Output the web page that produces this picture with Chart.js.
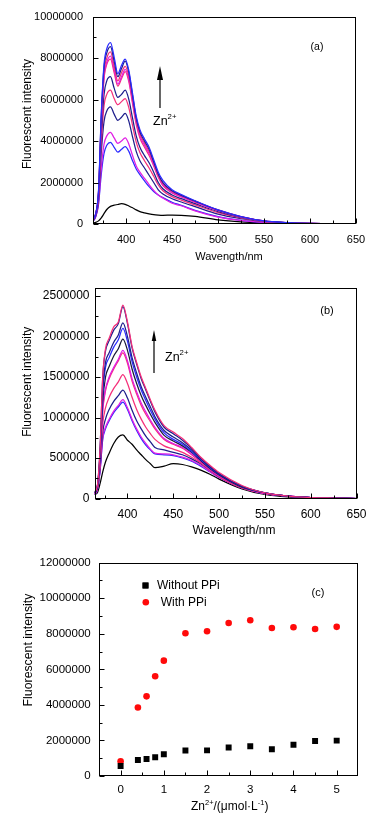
<!DOCTYPE html>
<html>
<head>
<meta charset="utf-8">
<script src="https://cdn.jsdelivr.net/npm/chart.js@4.4.1/dist/chart.umd.min.js"></script>
<style>
  html, body { margin: 0; padding: 0; background: #fff; }
  #page { position: relative; width: 390px; height: 822px; overflow: hidden; }
  canvas { position: absolute; left: 0; }
</style>
</head>
<body>
<div id="page">
  <canvas id="chartA" width="390" height="272" style="top:0px"></canvas>
  <canvas id="chartB" width="390" height="273" style="top:272px"></canvas>
  <canvas id="chartC" width="390" height="277" style="top:545px"></canvas>
</div>
<script>
// ---------- Data (intensities in units of 10^6) ----------

// panel (a) - emission spectra, Zn2+ titration
const waveA = [364, 367, 370, 373, 376, 379, 383, 387, 391, 395, 399, 403, 407, 411, 415, 420, 425, 430, 435, 440, 450, 460, 475, 500, 525, 550, 575, 600, 625, 650];
const aBlue1  = [0.2, 0.5, 1.6, 5.3, 7.7, 8.45, 8.75, 8.05, 7.25, 7.65, 7.95, 7.4, 6.3, 5.2, 4.55, 4.1, 3.7, 3.1, 2.5, 2.1, 1.65, 1.42, 1.12, 0.68, 0.36, 0.15, 0.07, 0.03, 0.01, 0];
const aNavy1  = [0.2, 0.5, 1.55, 5.2, 7.55, 8.25, 8.55, 7.85, 7.1, 7.5, 7.85, 7.3, 6.2, 5.1, 4.45, 4.0, 3.6, 3.0, 2.4, 2.0, 1.6, 1.38, 1.1, 0.67, 0.35, 0.15, 0.07, 0.03, 0.01, 0];
const aRed1   = [0.2, 0.5, 1.5, 5.0, 7.3, 8.0, 8.3, 7.6, 6.9, 7.3, 7.6, 7.1, 6.05, 5.0, 4.35, 3.9, 3.5, 2.95, 2.35, 1.95, 1.57, 1.36, 1.1, 0.68, 0.36, 0.15, 0.07, 0.03, 0.01, 0];
const aMag1   = [0.2, 0.5, 1.5, 4.9, 7.1, 7.8, 8.1, 7.45, 6.75, 7.1, 7.45, 6.95, 5.9, 4.9, 4.25, 3.8, 3.4, 2.85, 2.3, 1.9, 1.52, 1.32, 1.06, 0.65, 0.34, 0.14, 0.06, 0.03, 0.01, 0];
const aPink1  = [0.2, 0.5, 1.45, 4.8, 7.0, 7.7, 7.95, 7.3, 6.65, 7.0, 7.35, 6.85, 5.8, 4.8, 4.15, 3.7, 3.3, 2.8, 2.25, 1.85, 1.5, 1.3, 1.05, 0.64, 0.34, 0.14, 0.06, 0.03, 0.01, 0];
const aNavy2  = [0.18, 0.45, 1.35, 4.3, 6.25, 6.9, 7.1, 6.55, 6.1, 6.25, 6.45, 6.0, 5.1, 4.25, 3.7, 3.3, 2.95, 2.5, 2.0, 1.7, 1.4, 1.22, 0.98, 0.6, 0.32, 0.13, 0.06, 0.03, 0.01, 0];
const aPink2  = [0.17, 0.42, 1.25, 3.9, 5.7, 6.25, 6.45, 6.05, 5.75, 5.9, 6.05, 5.6, 4.75, 3.95, 3.45, 3.05, 2.7, 2.3, 1.88, 1.6, 1.32, 1.15, 0.92, 0.55, 0.3, 0.12, 0.05, 0.02, 0.01, 0];
const aNavy3  = [0.15, 0.4, 1.15, 3.45, 4.95, 5.45, 5.65, 5.3, 5.0, 5.15, 5.33, 4.95, 4.2, 3.5, 3.05, 2.7, 2.35, 2.0, 1.65, 1.45, 1.22, 1.06, 0.84, 0.48, 0.26, 0.11, 0.05, 0.02, 0.01, 0];
const aMag2   = [0.13, 0.37, 1.0, 2.7, 3.85, 4.25, 4.42, 4.15, 3.89, 4.0, 4.15, 3.85, 3.3, 2.8, 2.5, 2.2, 1.9, 1.62, 1.4, 1.25, 1.0, 0.88, 0.63, 0.33, 0.17, 0.08, 0.03, 0.02, 0.01, 0];
const aBlue2  = [0.12, 0.35, 0.95, 2.4, 3.4, 3.8, 3.94, 3.7, 3.46, 3.6, 3.73, 3.5, 3.05, 2.65, 2.38, 2.08, 1.8, 1.57, 1.4, 1.27, 1.05, 0.9, 0.66, 0.36, 0.18, 0.08, 0.04, 0.02, 0.01, 0];
const aBlack  = [0.05, 0.08, 0.15, 0.3, 0.5, 0.7, 0.85, 0.91, 0.94, 0.98, 0.95, 0.87, 0.78, 0.68, 0.6, 0.54, 0.49, 0.45, 0.43, 0.42, 0.43, 0.42, 0.37, 0.2, 0.1, 0.05, 0.02, 0.01, 0, 0];

// panel (b) - emission spectra with PPi
const waveB = [364, 367, 370, 373, 376, 380, 385, 390, 395, 400, 405, 410, 415, 420, 425, 430, 440, 450, 460, 470, 480, 490, 500, 525, 550, 575, 600, 625, 650];
const bPink1  = [0.08, 0.15, 0.6, 1.5, 1.85, 1.98, 2.12, 2.18, 2.39, 2.18, 1.88, 1.68, 1.5, 1.36, 1.22, 1.09, 0.9, 0.82, 0.74, 0.63, 0.51, 0.41, 0.32, 0.16, 0.07, 0.03, 0.012, 0.005, 0];
const bNavy1  = [0.08, 0.15, 0.6, 1.5, 1.82, 1.95, 2.08, 2.16, 2.37, 2.16, 1.86, 1.66, 1.48, 1.34, 1.2, 1.07, 0.88, 0.8, 0.72, 0.62, 0.5, 0.4, 0.31, 0.15, 0.07, 0.03, 0.012, 0.005, 0];
const bNavy2  = [0.07, 0.14, 0.55, 1.35, 1.68, 1.8, 1.93, 2.02, 2.17, 2.0, 1.74, 1.55, 1.38, 1.25, 1.13, 1.01, 0.84, 0.76, 0.69, 0.6, 0.49, 0.39, 0.3, 0.15, 0.07, 0.03, 0.012, 0.005, 0];
const bBlue1  = [0.07, 0.14, 0.52, 1.3, 1.62, 1.74, 1.87, 1.96, 2.10, 1.94, 1.69, 1.5, 1.34, 1.21, 1.09, 0.98, 0.81, 0.73, 0.67, 0.58, 0.48, 0.38, 0.3, 0.15, 0.07, 0.03, 0.012, 0.005, 0];
const bDark   = [0.07, 0.13, 0.5, 1.2, 1.5, 1.63, 1.76, 1.85, 1.97, 1.83, 1.6, 1.42, 1.27, 1.15, 1.04, 0.94, 0.78, 0.71, 0.65, 0.57, 0.47, 0.37, 0.29, 0.14, 0.07, 0.03, 0.012, 0.005, 0];
const bMag1   = [0.06, 0.12, 0.45, 1.1, 1.35, 1.5, 1.62, 1.72, 1.83, 1.7, 1.48, 1.32, 1.18, 1.07, 0.97, 0.88, 0.74, 0.68, 0.63, 0.55, 0.46, 0.36, 0.28, 0.14, 0.06, 0.03, 0.012, 0.005, 0];
const bPink2  = [0.06, 0.12, 0.45, 1.08, 1.33, 1.48, 1.6, 1.7, 1.80, 1.67, 1.45, 1.29, 1.15, 1.04, 0.95, 0.86, 0.73, 0.67, 0.62, 0.54, 0.45, 0.36, 0.28, 0.14, 0.06, 0.03, 0.012, 0.005, 0];
const bPink3  = [0.06, 0.11, 0.4, 0.92, 1.12, 1.25, 1.36, 1.44, 1.53, 1.42, 1.25, 1.1, 0.98, 0.88, 0.8, 0.73, 0.65, 0.61, 0.57, 0.51, 0.44, 0.35, 0.27, 0.13, 0.06, 0.03, 0.012, 0.005, 0];
const bNavy3  = [0.05, 0.1, 0.36, 0.82, 0.98, 1.1, 1.2, 1.27, 1.34, 1.24, 1.09, 0.96, 0.86, 0.77, 0.7, 0.63, 0.6, 0.57, 0.54, 0.49, 0.43, 0.35, 0.27, 0.13, 0.06, 0.03, 0.012, 0.005, 0];
const bMag2   = [0.05, 0.1, 0.33, 0.75, 0.88, 0.98, 1.08, 1.15, 1.22, 1.12, 0.98, 0.86, 0.76, 0.68, 0.61, 0.56, 0.55, 0.54, 0.51, 0.47, 0.41, 0.33, 0.26, 0.13, 0.06, 0.03, 0.012, 0.005, 0];
const bBlue2  = [0.05, 0.1, 0.33, 0.73, 0.86, 0.96, 1.06, 1.13, 1.19, 1.1, 0.96, 0.84, 0.74, 0.66, 0.6, 0.55, 0.54, 0.53, 0.5, 0.46, 0.4, 0.33, 0.26, 0.13, 0.06, 0.03, 0.012, 0.005, 0];
const bBlack  = [0.05, 0.07, 0.18, 0.33, 0.45, 0.56, 0.68, 0.76, 0.785, 0.72, 0.67, 0.6, 0.54, 0.48, 0.43, 0.38, 0.4, 0.43, 0.42, 0.39, 0.35, 0.3, 0.24, 0.12, 0.05, 0.02, 0.01, 0.005, 0];

// panel (c) - intensity vs Zn2+ concentration
const znConc     = [0, 0.4, 0.6, 0.8, 1.0, 1.5, 2.0, 2.5, 3.0, 3.5, 4.0, 4.5, 5.0];
const withoutPPi = [0.56, 0.9, 0.96, 1.05, 1.22, 1.43, 1.44, 1.6, 1.67, 1.5, 1.76, 1.97, 1.99];
const withPPi    = [0.83, 3.85, 4.48, 5.61, 6.49, 8.03, 8.14, 8.61, 8.76, 8.33, 8.37, 8.27, 8.39];

// tick labels
const xTicksA = [400, 450, 500, 550, 600, 650];
const xMinorA = [375, 425, 475, 525, 575, 625];
const yTicksA = [0, 2000000, 4000000, 6000000, 8000000, 10000000];
const yMinorA = [1000000, 3000000, 5000000, 7000000, 9000000];
const xTicksB = xTicksA;
const xMinorB = xMinorA;
const yTicksB = [0, 500000, 1000000, 1500000, 2000000, 2500000];
const yMinorB = [250000, 750000, 1250000, 1750000, 2250000];
const xTicksC = [0, 1, 2, 3, 4, 5];
const xMinorC = [0.5, 1.5, 2.5, 3.5, 4.5];
const yTicksC = [0, 2000000, 4000000, 6000000, 8000000, 10000000, 12000000];
const yMinorC = [1000000, 3000000, 5000000, 7000000, 9000000, 11000000];

// ---------- Styling ----------
const FONT = "'Liberation Sans', Arial, sans-serif";
const BLUE = "#2b2bff";
const MAGENTA = "#e01ee4";
const NAVY = "#1e1e8c";
const PINK = "#f5307a";
const DARK = "#1a1a3a";

function spectrum(waves, vals, color) {
    return {
        data: waves.map((w, i) => ({ x: w, y: vals[i] * 1e6 })),
        borderColor: color,
        borderWidth: 1.25,
        pointRadius: 0,
        fill: false,
        cubicInterpolationMode: "monotone"
    };
}

function font(size) {
    return size + "px " + FONT;
}

// text with superscript parts: parts = [[text, isSup], ...]
function richText(ctx, parts, x, y, size, center) {
    const supSize = size * 0.62;
    let total = 0;
    parts.forEach(p => {
        ctx.font = font(p[1] ? supSize : size);
        total += ctx.measureText(p[0]).width;
    });
    let cx = center ? x - total / 2 : x;
    ctx.textAlign = "left";
    ctx.textBaseline = "alphabetic";
    parts.forEach(p => {
        ctx.font = font(p[1] ? supSize : size);
        ctx.fillText(p[0], cx, p[1] ? y - size * 0.45 : y);
        cx += ctx.measureText(p[0]).width;
    });
}

function yTitle(ctx, text, x, y, size) {
    ctx.save();
    ctx.translate(x, y);
    ctx.rotate(-Math.PI / 2);
    ctx.font = font(size);
    ctx.textAlign = "center";
    ctx.textBaseline = "middle";
    ctx.fillText(text, 0, 0);
    ctx.restore();
}

function arrow(ctx, x, bottom, tip, headLen, headW) {
    ctx.beginPath();
    ctx.lineWidth = 1.2;
    ctx.moveTo(x, bottom);
    ctx.lineTo(x, tip + headLen);
    ctx.stroke();
    ctx.beginPath();
    ctx.moveTo(x - headW / 2, tip + headLen);
    ctx.lineTo(x + headW / 2, tip + headLen);
    ctx.lineTo(x, tip);
    ctx.closePath();
    ctx.fill();
}

// frame box, inward ticks and annotations
function framePlugin(xMinor, yMinor, extra) {
    return {
        id: "frame",
        afterDraw(chart) {
            const { ctx, chartArea: a, scales: { x, y } } = chart;
            ctx.save();
            ctx.strokeStyle = "#000";
            ctx.fillStyle = "#000";
            ctx.lineWidth = 1;
            const L = Math.round(a.left) + 0.5, R = Math.round(a.right) - 0.5;
            const T = Math.round(a.top) + 0.5, B = Math.round(a.bottom) - 0.5;
            ctx.strokeRect(L, T, R - L, B - T);
            ctx.beginPath();
            x.ticks.forEach(t => {
                const px = Math.round(x.getPixelForValue(t.value)) + 0.5;
                ctx.moveTo(px, B); ctx.lineTo(px, B - 5);
            });
            xMinor.forEach(v => {
                const px = Math.round(x.getPixelForValue(v)) + 0.5;
                ctx.moveTo(px, B); ctx.lineTo(px, B - 3);
            });
            y.ticks.forEach(t => {
                const py = Math.round(y.getPixelForValue(t.value)) + 0.5;
                ctx.moveTo(L, py); ctx.lineTo(L + 5, py);
            });
            yMinor.forEach(v => {
                const py = Math.round(y.getPixelForValue(v)) + 0.5;
                ctx.moveTo(L, py); ctx.lineTo(L + 3, py);
            });
            ctx.stroke();
            extra(ctx, chart);
            ctx.restore();
        }
    };
}

function axes(o) {
    return {
        x: {
            type: "linear", min: o.xMin, max: o.xMax,
            afterBuildTicks: s => { s.ticks = o.xTicks.map(v => ({ value: v })); },
            afterFit: s => { s.height = o.xHeight; },
            grid: { display: false, drawTicks: false },
            border: { display: false },
            ticks: { padding: o.xPad, color: "#000", font: { family: FONT, size: o.tickSize }, maxRotation: 0, autoSkip: false, callback: v => String(v) }
        },
        y: {
            type: "linear", min: o.yMin, max: o.yMax,
            afterBuildTicks: s => { s.ticks = o.yTicks.map(v => ({ value: v })); },
            afterFit: s => { s.width = o.yWidth; },
            grid: { display: false, drawTicks: false },
            border: { display: false },
            ticks: { padding: o.yPad, color: "#000", font: { family: FONT, size: o.tickSize }, autoSkip: false, callback: v => String(v) }
        }
    };
}

const common = {
    responsive: false,
    animation: false,
    devicePixelRatio: 1,
    events: [],
    plugins: { legend: { display: false }, tooltip: { enabled: false } }
};

// ---------- Panel (a) ----------
new Chart(document.getElementById("chartA"), {
    type: "line",
    data: {
        datasets: [
            spectrum(waveA, aBlue1, BLUE),
            spectrum(waveA, aNavy1, NAVY),
            spectrum(waveA, aRed1, PINK),
            spectrum(waveA, aMag1, MAGENTA),
            spectrum(waveA, aPink1, PINK),
            spectrum(waveA, aNavy2, NAVY),
            spectrum(waveA, aPink2, PINK),
            spectrum(waveA, aNavy3, NAVY),
            spectrum(waveA, aMag2, MAGENTA),
            spectrum(waveA, aBlue2, BLUE),
            spectrum(waveA, aBlack, "#000")
        ]
    },
    options: Object.assign({}, common, {
        layout: { padding: { top: 15, right: 34, left: 0, bottom: 0 } },
        scales: axes({ xMin: 364, xMax: 650, xTicks: xTicksA, yMin: 0, yMax: 10000000, yTicks: yTicksA,
                       xHeight: 48, yWidth: 93, xPad: 9, yPad: 10, tickSize: 11 })
    }),
    plugins: [framePlugin(xMinorA, yMinorA, (ctx) => {
        ctx.font = font(11);
        ctx.textAlign = "center";
        ctx.textBaseline = "middle";
        ctx.fillText("Wavength/nm", 229, 257);
        yTitle(ctx, "Fluorescent intensity", 28, 114, 12);
        ctx.font = font(10.5);
        ctx.fillText("(a)", 317, 47);
        arrow(ctx, 160, 108, 66, 14, 6);
        richText(ctx, [["Zn", false], ["2+", true]], 153, 125, 12.5, false);
    })]
});

// ---------- Panel (b) ----------
new Chart(document.getElementById("chartB"), {
    type: "line",
    data: {
        datasets: [
            spectrum(waveB, bPink1, PINK),
            spectrum(waveB, bNavy1, NAVY),
            spectrum(waveB, bNavy2, NAVY),
            spectrum(waveB, bBlue1, BLUE),
            spectrum(waveB, bDark, DARK),
            spectrum(waveB, bMag1, MAGENTA),
            spectrum(waveB, bPink2, PINK),
            spectrum(waveB, bPink3, PINK),
            spectrum(waveB, bNavy3, NAVY),
            spectrum(waveB, bMag2, MAGENTA),
            spectrum(waveB, bBlue2, BLUE),
            spectrum(waveB, bBlack, "#000")
        ]
    },
    options: Object.assign({}, common, {
        layout: { padding: { top: 16, right: 33.5, left: 0, bottom: 0 } },
        scales: axes({ xMin: 364, xMax: 650, xTicks: xTicksB, yMin: 0, yMax: 2600000, yTicks: yTicksB,
                       xHeight: 46.5, yWidth: 94.5, xPad: 9, yPad: 5, tickSize: 12 })
    }),
    plugins: [framePlugin(xMinorB, yMinorB, (ctx) => {
        ctx.font = font(12);
        ctx.textAlign = "center";
        ctx.textBaseline = "middle";
        ctx.fillText("Wavelength/nm", 234, 258.5);
        yTitle(ctx, "Fluorescent intensity", 28, 109.7, 12);
        ctx.font = font(11);
        ctx.fillText("(b)", 327, 39);
        arrow(ctx, 154, 101, 58, 11, 4.5);
        richText(ctx, [["Zn", false], ["2+", true]], 165, 89, 12.5, false);
    })]
});

// ---------- Panel (c) ----------
new Chart(document.getElementById("chartC"), {
    type: "scatter",
    data: {
        datasets: [
            {
                label: "Without PPi",
                data: znConc.map((c, i) => ({ x: c, y: withoutPPi[i] * 1e6 })),
                pointStyle: "rect", pointRadius: 4.2, backgroundColor: "#000", borderWidth: 0
            },
            {
                label: "With PPi",
                data: znConc.map((c, i) => ({ x: c, y: withPPi[i] * 1e6 })),
                pointStyle: "circle", pointRadius: 3.3, backgroundColor: "#ff0a0a", borderWidth: 0
            }
        ]
    },
    options: Object.assign({}, common, {
        layout: { padding: { top: 17.7, right: 31.7, left: 0, bottom: 0 } },
        scales: axes({ xMin: -0.5, xMax: 5.5, xTicks: xTicksC, yMin: 0, yMax: 12000000, yTicks: yTicksC,
                       xHeight: 46, yWidth: 99, xPad: 6.5, yPad: 8.3, tickSize: 11.5 })
    }),
    plugins: [framePlugin(xMinorC, yMinorC, (ctx, chart) => {
        ctx.fillStyle = "#000";
        richText(ctx, [["Zn", false], ["2+", true], ["/(\u03bcmol\u00b7L", false], ["-1", true], [")", false]], 229.7, 265, 12, true);
        yTitle(ctx, "Fluorescent intensity", 28.3, 105, 12.3);
        ctx.font = font(11);
        ctx.textAlign = "center";
        ctx.textBaseline = "middle";
        ctx.fillText("(c)", 318, 48);
        // legend, markers drawn with the datasets' own styles
        const ds = chart.data.datasets;
        Chart.helpers.drawPoint(ctx, { pointStyle: ds[0].pointStyle, radius: ds[0].pointRadius, borderWidth: 0 }, 145.5, 40.5);
        ctx.fill();
        ctx.fillStyle = ds[1].backgroundColor;
        Chart.helpers.drawPoint(ctx, { pointStyle: ds[1].pointStyle, radius: ds[1].pointRadius, borderWidth: 0 }, 145.8, 57.3);
        ctx.fillStyle = "#000";
        ctx.font = font(12);
        ctx.textAlign = "left";
        ctx.fillText(ds[0].label, 157, 41);
        ctx.fillText(ds[1].label, 160.7, 57.5);
    })]
});
</script>
</body>
</html>
